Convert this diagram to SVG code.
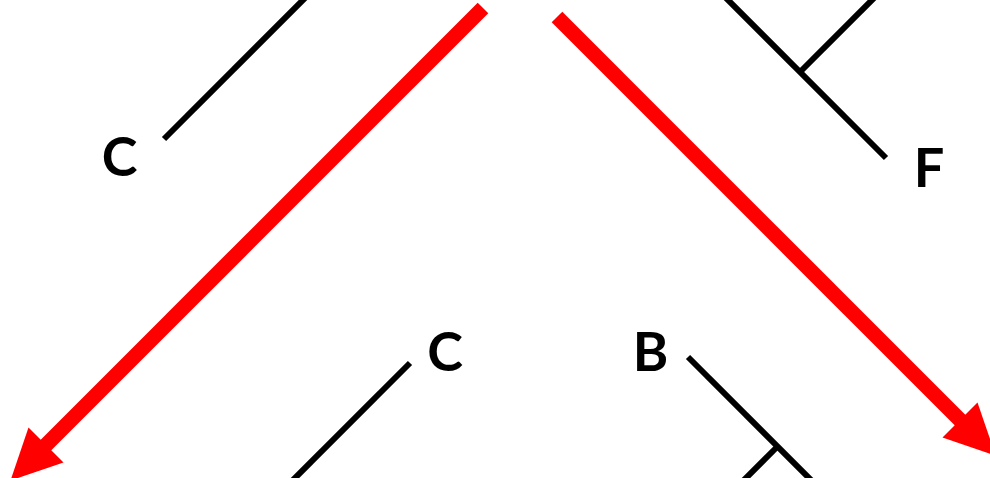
<svg xmlns="http://www.w3.org/2000/svg" width="990" height="478" viewBox="0 0 990 478">
<style>
.branch{stroke:#000;stroke-width:6;fill:none}
.arrow{stroke:#f00;stroke-width:15;fill:none}
.head{fill:#f00}
.lbl{font-family:Lato,"Liberation Sans",sans-serif;font-weight:bold;font-size:54px;fill:#000;text-anchor:middle}
</style>
<rect width="990" height="478" fill="#fff"/>
<g id="connectors">
<line class="branch" x1="164" y1="139" x2="307" y2="-4"/>
<line class="branch" x1="886" y1="158" x2="722" y2="-6"/>
<line class="branch" x1="800" y1="72" x2="880" y2="-8"/>
<line class="branch" x1="410" y1="363" x2="290" y2="483"/>
<line class="branch" x1="688" y1="357" x2="815" y2="484"/>
<line class="branch" x1="777" y1="447" x2="738" y2="486"/>
<line class="arrow" x1="483" y1="8" x2="40" y2="451"/>
<polygon class="head" points="28.5,427.5 63.5,462.5 10.5,480.5"/>
<line class="arrow" x1="557" y1="17" x2="966" y2="426"/>
<polygon class="head" points="977.5,402.5 942.5,437.5 995.8,455.8"/>
</g>
<g id="node-C1"><text class="lbl" x="119.5" y="176">C</text></g>
<g id="node-F"><text class="lbl" x="929" y="187">F</text></g>
<g id="node-C2"><text class="lbl" x="445" y="371">C</text></g>
<g id="node-B"><text class="lbl" x="650.5" y="371">B</text></g>
</svg>
